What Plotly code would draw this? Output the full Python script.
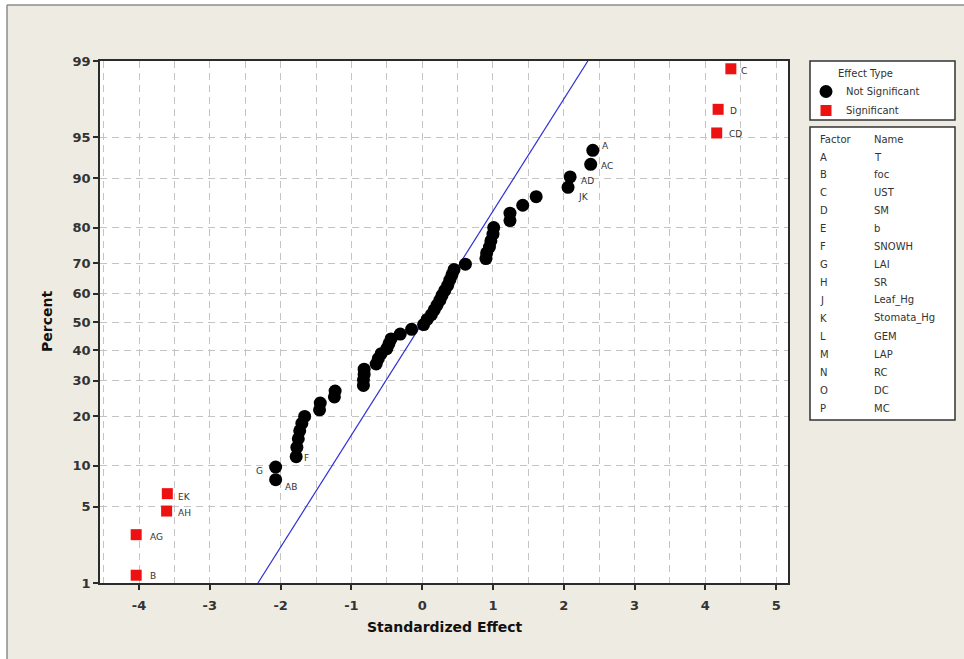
import plotly.graph_objects as go
from statistics import NormalDist

# ---------------- data ----------------
# Not significant effects (standardized effect, normal-probability percent)
ns_effect = [-2.07, -2.07, -1.78, -1.77, -1.75, -1.73, -1.70, -1.66, -1.45, -1.44, -1.24, -1.23,
             -0.83, -0.83, -0.82, -0.82, -0.65, -0.62, -0.58, -0.50, -0.47, -0.44, -0.31, -0.15, 0.02,
             0.07, 0.13, 0.17, 0.21, 0.25, 0.28, 0.32, 0.36, 0.39, 0.42, 0.45, 0.61,
             0.90, 0.91, 0.95, 0.97, 1.00, 1.01, 1.24, 1.24, 1.42, 1.61, 2.06, 2.09, 2.38, 2.41]
ns_percent = [8.0, 9.8, 11.5, 13.2, 14.9, 16.6, 18.3, 20.0, 21.7, 23.5, 25.2, 26.9,
              28.6, 30.3, 32.0, 33.7, 35.4, 37.2, 38.9, 40.6, 42.3, 44.0, 45.7, 47.4, 49.1,
              50.9, 52.6, 54.3, 56.0, 57.7, 59.4, 61.1, 62.8, 64.6, 66.3, 68.0, 69.7,
              71.4, 73.1, 74.8, 76.5, 78.3, 80.0, 81.7, 83.4, 85.1, 86.8, 88.5, 90.2, 92.0, 93.7]
ns_labels = ["AB", "G", "F"] + [""] * 44 + ["JK", "AD", "AC", "A"]

# Significant effects
sig_effect = [-4.04, -4.04, -3.61, -3.60, 4.16, 4.18, 4.36]
sig_percent = [1.2, 2.9, 4.6, 6.3, 95.4, 97.1, 98.8]
sig_labels = ["B", "AG", "AH", "EK", "CD", "D", "C"]

# Reference (normal) line end points
ref_effect = [-2.32, 2.34]
ref_percent = [1, 99]

# Axis ticks
y_ticks = [1, 5, 10, 20, 30, 40, 50, 60, 70, 80, 90, 95, 99]
x_ticks = [-4, -3, -2, -1, 0, 1, 2, 3, 4, 5]

# Factor table
factor_codes = ["A", "B", "C", "D", "E", "F", "G", "H", "J", "K", "L", "M", "N", "O", "P"]
factor_names = ["T", "foc", "UST", "SM", "b", "SNOWH", "LAI", "SR", "Leaf_Hg", "Stomata_Hg",
                "GEM", "LAP", "RC", "DC", "MC"]

# ---------------- helpers ----------------
nd = NormalDist()


def z(p):
    return nd.inv_cdf(p / 100.0)


W, H = 964, 659
L, R, T, B = 100, 176, 61, 76
PW, PH = W - L - R, H - T - B


def px(p):
    return (p - L) / PW


def py(q):
    return (H - B - q) / PH


FONT = "DejaVu Sans"
TXT = "#333333"

fig = go.Figure()

fig.add_trace(go.Scatter(
    x=ref_effect, y=[z(p) for p in ref_percent], mode="lines",
    line=dict(color="#2f2fd6", width=1.2), showlegend=False, hoverinfo="skip"))

fig.add_trace(go.Scatter(
    x=ns_effect, y=[z(p) for p in ns_percent], mode="markers", name="Not Significant",
    marker=dict(symbol="circle", size=13, color="#000000", line=dict(width=0))))

fig.add_trace(go.Scatter(
    x=sig_effect, y=[z(p) for p in sig_percent], mode="markers", name="Significant",
    marker=dict(symbol="square", size=11, color="#ee1111", line=dict(width=0))))

# point labels
offsets = {
    "C": (8, -2, "left"), "D": (10, -2, "left"), "CD": (10, -1, "left"),
    "A": (7, 4, "left"), "AC": (8, -2, "left"), "AD": (9, -4, "left"), "JK": (8, -10, "left"),
    "G": (-11, -4, "right"), "AB": (7, -7, "left"), "F": (6, -1, "left"),
    "EK": (9, -3, "left"), "AH": (9, -2, "left"), "AG": (12, -2, "left"), "B": (12, -1, "left"),
}
annotations = []
for xs, ps, labs in ((ns_effect, ns_percent, ns_labels), (sig_effect, sig_percent, sig_labels)):
    for xv, pv, lab in zip(xs, ps, labs):
        if not lab:
            continue
        dx, dy, anc = offsets[lab]
        annotations.append(dict(x=xv, y=z(pv), xref="x", yref="y", text=lab, showarrow=False,
                                xanchor=anc, yanchor="middle", xshift=dx, yshift=dy,
                                font=dict(family=FONT, size=9, color=TXT)))

# axis titles
annotations.append(dict(x=px(445), y=py(627), xref="paper", yref="paper", text="<b>Standardized Effect</b>",
                        showarrow=False, xanchor="center", yanchor="middle",
                        font=dict(family=FONT, size=14, color="#111111")))
annotations.append(dict(x=px(47), y=py(322), xref="paper", yref="paper", text="<b>Percent</b>",
                        showarrow=False, xanchor="center", yanchor="middle", textangle=-90,
                        font=dict(family=FONT, size=14, color="#111111")))

# factor table
tfont = dict(family=FONT, size=10, color=TXT)
annotations.append(dict(x=px(818), y=py(140), xref="paper", yref="paper", text="Factor", showarrow=False,
                        xanchor="left", yanchor="middle", font=tfont))
annotations.append(dict(x=px(872), y=py(140), xref="paper", yref="paper", text="Name", showarrow=False,
                        xanchor="left", yanchor="middle", font=tfont))
for i, (c, n) in enumerate(zip(factor_codes, factor_names)):
    yy = 157 + i * 17.93
    annotations.append(dict(x=px(818), y=py(yy), xref="paper", yref="paper", text=c, showarrow=False,
                            xanchor="left", yanchor="middle", font=tfont))
    annotations.append(dict(x=px(872), y=py(yy), xref="paper", yref="paper", text=n, showarrow=False,
                            xanchor="left", yanchor="middle", font=tfont))

shapes = [
    # white page edge + grey frame of the panel
    dict(type="rect", xref="paper", yref="paper", x0=px(0), x1=px(7), y0=py(H), y1=py(0),
         fillcolor="white", line=dict(width=0), layer="below"),
    dict(type="rect", xref="paper", yref="paper", x0=px(0), x1=px(W), y0=py(5), y1=py(0),
         fillcolor="white", line=dict(width=0), layer="below"),
    dict(type="line", xref="paper", yref="paper", x0=px(7), x1=px(7), y0=py(5), y1=py(H),
         line=dict(color="#8c8c8c", width=1.5), layer="below"),
    dict(type="line", xref="paper", yref="paper", x0=px(7), x1=px(W), y0=py(5), y1=py(5),
         line=dict(color="#8c8c8c", width=1.5), layer="below"),
    # legend boxes
    dict(type="rect", xref="paper", yref="paper", x0=px(810), x1=px(955), y0=py(120), y1=py(61),
         fillcolor="white", line=dict(color="#333333", width=1.5), layer="below"),
    dict(type="rect", xref="paper", yref="paper", x0=px(810), x1=px(955), y0=py(420), y1=py(127),
         fillcolor="white", line=dict(color="#333333", width=1.5), layer="below"),
]

grid = dict(gridcolor="#c4c4c4", griddash="7px,5px", gridwidth=1)
tickfont = dict(family=FONT, size=13, color="#333333", weight="bold")

fig.update_layout(
    width=W, height=H,
    margin=dict(l=L, r=R, t=T, b=B, autoexpand=False),
    paper_bgcolor="#eeebe2", plot_bgcolor="white",
    font=dict(family=FONT, color=TXT),
    showlegend=True,
    legend=dict(x=px(806), y=py(64), xanchor="left", yanchor="top",
                bgcolor="rgba(0,0,0,0)", borderwidth=0,
                title=dict(text="Effect Type", side="top center", font=dict(family=FONT, size=10, color=TXT)),
                font=dict(family=FONT, size=10, color=TXT), tracegroupgap=0),
    xaxis=dict(range=[-4.551, 5.167], tickvals=x_ticks, ticktext=[str(v) for v in x_ticks],
               showgrid=True, **grid,
               minor=dict(dtick=0.5, tick0=0, showgrid=True, ticks="", **grid),
               zeroline=False, showline=True, mirror=True, linecolor="#2b2b2b", linewidth=1.5,
               ticks="outside", ticklen=5, tickwidth=1.5, tickcolor="#2b2b2b",
               ticklabelstandoff=5, tickfont=tickfont),
    yaxis=dict(range=[z(1), z(99)], tickvals=[z(v) for v in y_ticks], ticktext=[str(v) for v in y_ticks],
               showgrid=True, **grid,
               zeroline=False, showline=True, mirror=True, linecolor="#2b2b2b", linewidth=1.5,
               ticks="outside", ticklen=5, tickwidth=1.5, tickcolor="#2b2b2b",
               tickfont=tickfont),
    annotations=annotations,
    shapes=shapes,
)

fig.write_html("out.html", config={"displayModeBar": False},
               post_script="document.body.style.margin='0';document.body.style.padding='0';")
